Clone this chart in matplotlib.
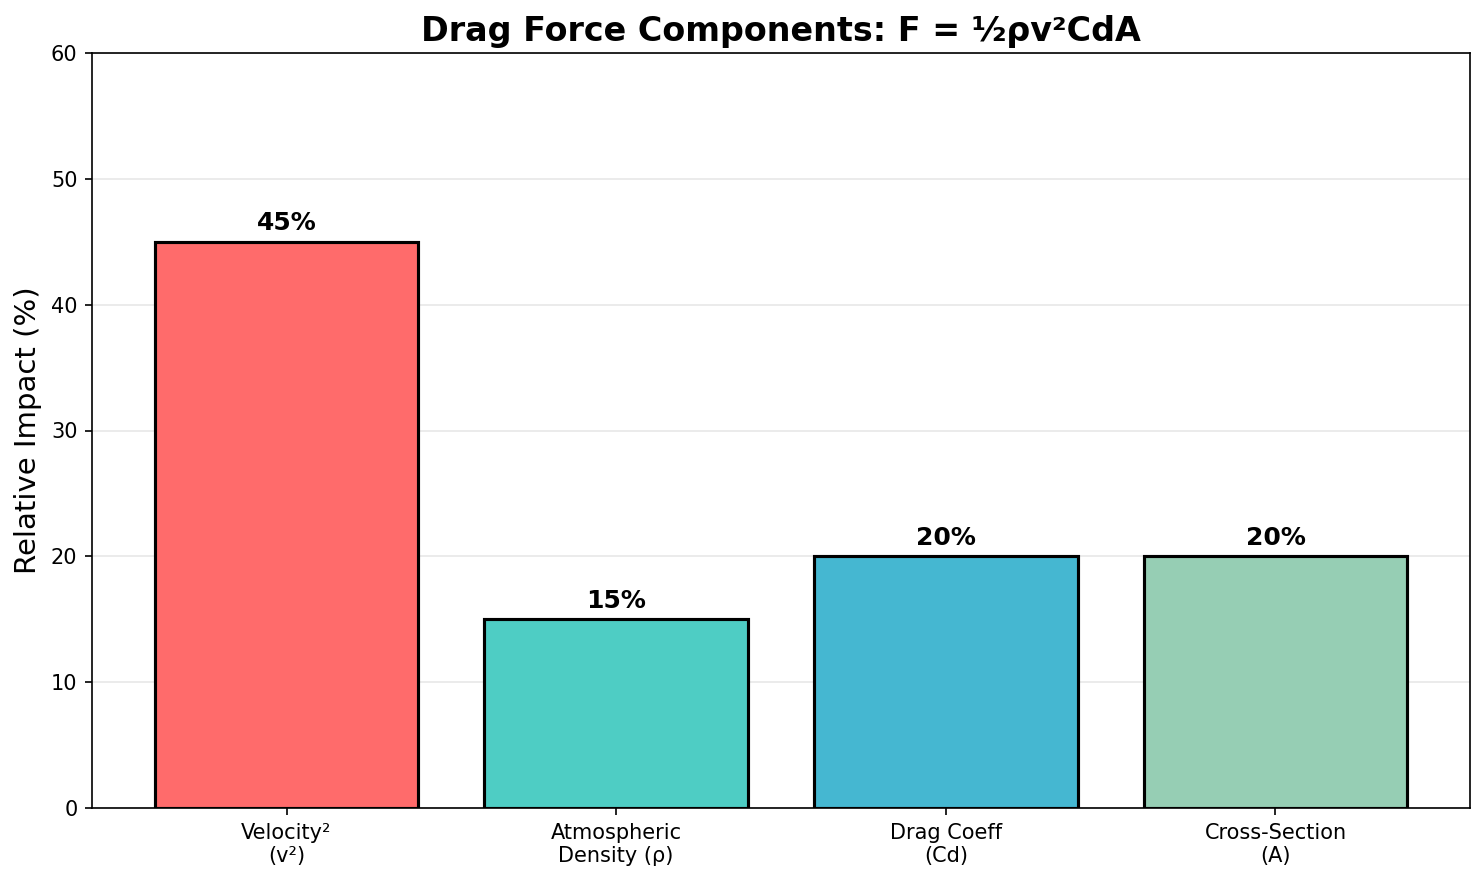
import matplotlib
matplotlib.use("Agg")
import matplotlib.pyplot as plt

# data
categories = ['Velocity²\n(v²)', 'Atmospheric\nDensity (ρ)', 'Drag Coeff\n(Cd)', 'Cross-Section\n(A)']
impact = [45, 15, 20, 20]
colors = ['#FF6B6B', '#4ECDC4', '#45B7D1', '#96CEB4']

fig = plt.figure(figsize=(1484 / 150, 881 / 150), dpi=150)
ax = fig.add_axes([92 / 1484, 1 - 808 / 881, (1470 - 92) / 1484, (808 - 53) / 881])

bars = ax.bar(categories, impact, color=colors, edgecolor='black', linewidth=1.5)
for b, v in zip(bars, impact):
    ax.text(b.get_x() + b.get_width() / 2, v + 0.5, f'{v}%',
            ha='center', va='bottom', fontsize=12, fontweight='bold')

ax.set_ylim(0, 60)
ax.set_ylabel('Relative Impact (%)', fontsize=14)
ax.set_title('Drag Force Components: F = ½ρv²CdA', fontsize=16, fontweight='bold')
ax.grid(axis='y', alpha=0.3)
ax.set_axisbelow(True)
ax.tick_params(axis='x', labelsize=10)
ax.tick_params(axis='y', labelsize=10)

fig.savefig('out.png', dpi=150)
